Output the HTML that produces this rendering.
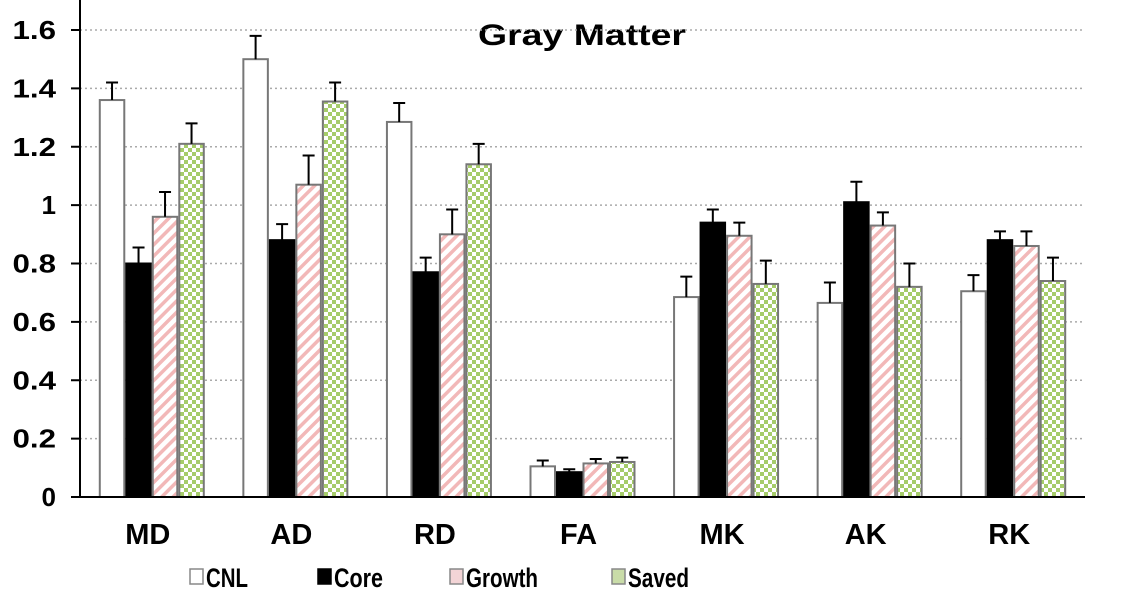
<!DOCTYPE html>
<html><head><meta charset="utf-8"><style>
body{margin:0;background:#fff;}
svg{display:block;font-family:"Liberation Sans",Arial,sans-serif;}
</style></head><body>
<svg id="chart" width="1125" height="600" viewBox="0 0 1125 600">
<defs>
<pattern id="stripes" width="8" height="8" patternUnits="userSpaceOnUse" patternTransform="rotate(45)">
<rect width="8" height="8" fill="#fff"/><rect width="3.5" height="8" fill="#f2b8b8"/></pattern>
<pattern id="checks" width="8" height="8" patternUnits="userSpaceOnUse">
<rect width="8" height="8" fill="#fff"/><rect width="4" height="4" fill="#a6cc6a"/><rect x="4" y="4" width="4" height="4" fill="#a6cc6a"/></pattern>
</defs>
<text x="478" y="45" font-size="30" font-weight="bold" textLength="208" lengthAdjust="spacingAndGlyphs">Gray Matter</text>
<g id="grid"></g><g id="bars"></g><g id="axes"></g><g id="legend"></g>
</svg>
<script>
const categories=["MD","AD","RD","FA","MK","AK","RK"];
const seriesNames=["CNL","Core","Growth","Saved"];
const cnl=[1.36,1.50,1.285,0.105,0.685,0.665,0.705];
const core=[0.80,0.88,0.77,0.085,0.94,1.01,0.88];
const growth=[0.96,1.07,0.90,0.115,0.895,0.93,0.86];
const saved=[1.21,1.355,1.14,0.12,0.73,0.72,0.74];
const cnlErr=[0.06,0.08,0.065,0.02,0.07,0.07,0.055];
const coreErr=[0.055,0.055,0.05,0.01,0.045,0.07,0.03];
const growthErr=[0.085,0.10,0.085,0.015,0.045,0.045,0.05];
const savedErr=[0.07,0.065,0.07,0.015,0.08,0.08,0.08];
const yTicks=["0","0.2","0.4","0.6","0.8","1","1.2","1.4","1.6"];
const NS="http://www.w3.org/2000/svg";
const X0=80,X1=1085,Y0=497,YTOP=30,YMAX=1.6;
const y=v=>Y0-(v/YMAX)*(Y0-YTOP);
const gw=(X1-X0)/categories.length;
const gx=i=>X0+gw*i+gw/2;
const BW=26.5;
const fills=["#fff","#000","url(#stripes)","url(#checks)"];
const series=[cnl,core,growth,saved],errs=[cnlErr,coreErr,growthErr,savedErr];
function mk(tag,attrs,parent){const e=document.createElementNS(NS,tag);for(const k in attrs)e.setAttribute(k,attrs[k]);parent.appendChild(e);return e;}
const grid=document.getElementById('grid'),bars=document.getElementById('bars'),axes=document.getElementById('axes'),legend=document.getElementById('legend');
yTicks.forEach(t=>{const v=parseFloat(t);const yy=y(v);
 if(v>0){const l=mk('line',{x1:X0,x2:X1,y1:yy,y2:yy,stroke:'#aaa','stroke-width':1.5,'stroke-dasharray':'2,3'},grid);
 
 }
 const tk=mk('line',{x1:X0-9,x2:X0,y1:yy,y2:yy,stroke:'#000','stroke-width':2},axes);
 
 
 const tx=mk('text',{x:56,y:yy+9,'font-size':26,'font-weight':'bold','text-anchor':'end',textLength:t.length*14.5,lengthAdjust:'spacingAndGlyphs'},axes);tx.textContent=t;
 
 
});
categories.forEach((c,i)=>{
 series.forEach((s,j)=>{
  const bx=gx(i)-2*BW+j*BW, top=y(s[i]);
  const r=mk('rect',{x:bx+1,y:top,width:BW-2,height:Y0-top,fill:fills[j],stroke:j==1?'#000':'#777','stroke-width':2},bars);
  
  
  const et=y(s[i]+errs[j][i]),cx=bx+BW/2;
  const e=mk('path',{d:`M${cx},${top} V${et} M${cx-6},${et} H${cx+6}`,stroke:'#000','stroke-width':2,fill:'none'},bars);
  
  
 });
 const t=mk('text',{x:gx(i)-4,y:544,'font-size':29,'font-weight':'bold','text-anchor':'middle'},axes);t.textContent=c;
 
 
});
const ya=mk('line',{x1:X0,x2:X0,y1:0,y2:Y0,stroke:'#000','stroke-width':2},axes);


const xa=mk('line',{x1:X0,x2:X1,y1:Y0,y2:Y0,stroke:'#000','stroke-width':2},axes);


const lx=[190,318,450,612],lw=[42,49,72,61],lfill=["#fff","#000","#f3d4d6","#c9dca8"];
seriesNames.forEach((n,j)=>{
 const b=mk('rect',{x:lx[j],y:569,width:13,height:15,fill:lfill[j],stroke:j==1?'#000':'#888','stroke-width':1.5},legend);
 
 
 const t=mk('text',{x:lx[j]+16,y:587,'font-size':27,'font-weight':'bold',textLength:lw[j],lengthAdjust:'spacingAndGlyphs'},legend);t.textContent=n;
 
 
});
</script>
</body></html>
